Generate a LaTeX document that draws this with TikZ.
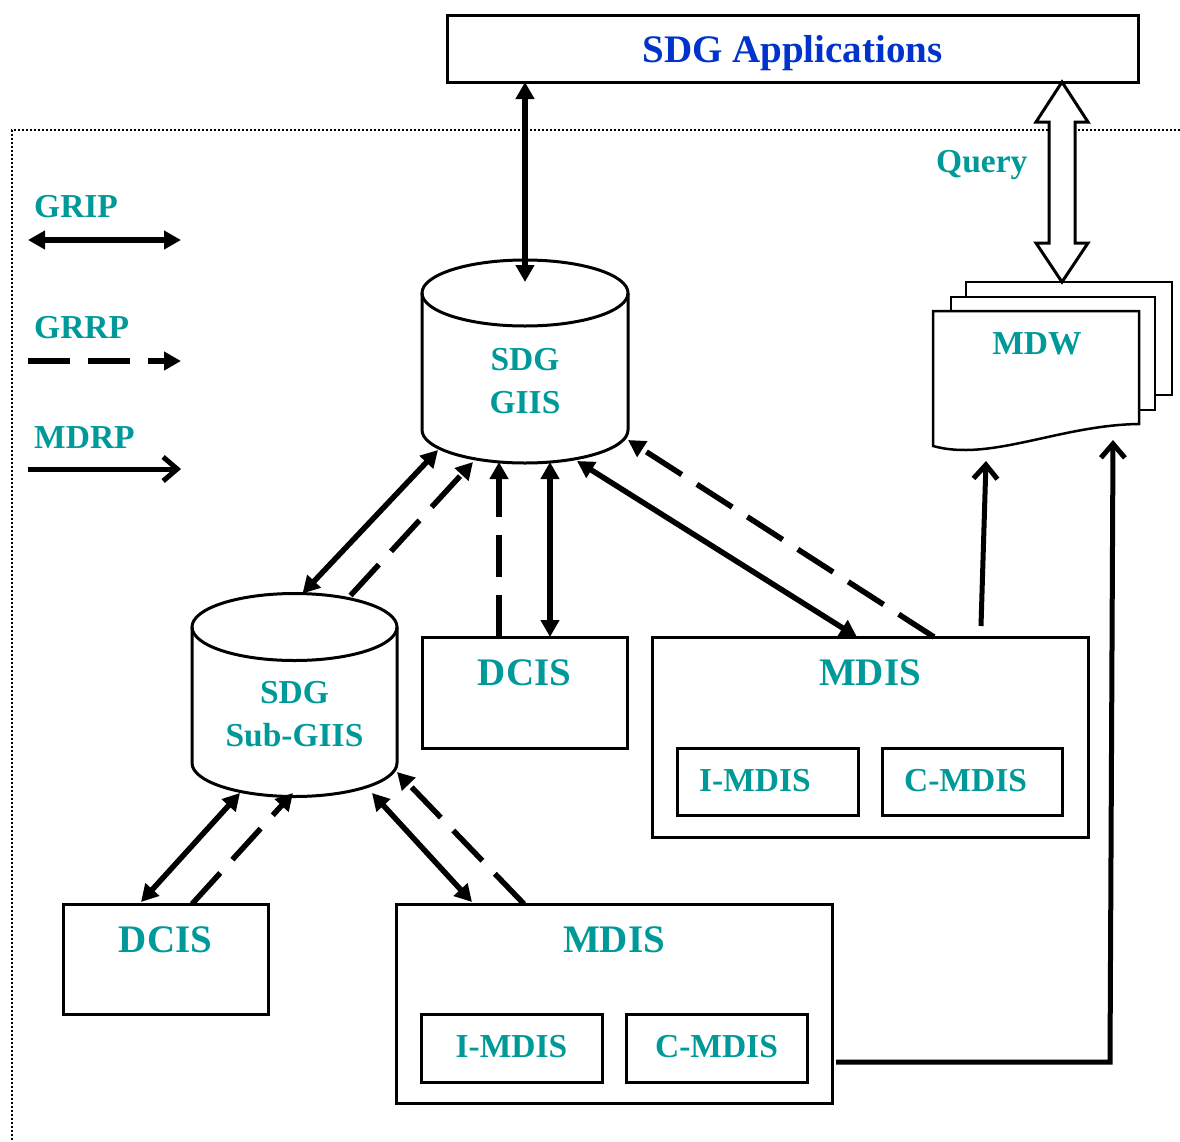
\documentclass[tikz,border=0pt]{standalone}
\usepackage{fontspec}
\setmainfont{Liberation Serif}
\usetikzlibrary{arrows.meta,shapes.geometric,calc}
\definecolor{labelteal}{RGB}{0,153,153}
\definecolor{appblue}{RGB}{0,51,204}
\newcommand{\bigfont}{\fontsize{39}{45}\selectfont\bfseries}
\newcommand{\lblfont}{\fontsize{33.5}{40}\selectfont\bfseries}

\begin{document}
\begin{tikzpicture}[x=1pt,y=-1pt,
  box/.style={draw, line width=3pt, rectangle, inner sep=0pt, outer sep=0pt},
  sheet/.style={draw, line width=2.5pt, fill=white, rectangle, inner sep=0pt, outer sep=0pt},
  cap/.style={ellipse, inner sep=0pt, outer sep=0pt, minimum width=#1},
  cylside/.style={line width=3pt},
  bigtxt/.style={anchor=base, inner sep=0pt, font=\bigfont, text=labelteal},
  lbl/.style={anchor=base, inner sep=0pt, font=\lblfont, text=labelteal},
  legtxt/.style={anchor=base west, inner sep=0pt, font=\lblfont, text=labelteal},
  frame/.style={line width=1.6pt, dash pattern=on 1.6pt off 2.4pt},
  grip/.style={line width=5.5pt, {Triangle[length=17pt,width=18pt]}-{Triangle[length=17pt,width=18pt]}},
  grrp/.style={line width=5.5pt, dash pattern=on 42pt off 18pt, -{Triangle[length=17pt,width=18pt]}},
  mdrp/.style={line width=5pt, -{Straight Barb[length=14pt,width=24pt]}},
  hollow/.style={draw, line width=3pt, fill=white, line join=miter}
]
\useasboundingbox (0,0) rectangle (1180,1141);

% dotted boundary of the SDG domain
\draw[frame] (1180,130) -- (12,130) -- (12,1141);

% application layer
\node[box, minimum width=691pt, minimum height=67pt] (apps) at (792.5,48.5) {};
\node[anchor=base, inner sep=0pt, font=\bigfont, text=appblue] (appstxt) at (792.5,62) {SDG Applications};

% legend
\node[legtxt] (legGrip) at (34,217) {GRIP};
\node[legtxt] (legGrrp) at (34,338) {GRRP};
\node[legtxt] (legMdrp) at (34,448) {MDRP};
\coordinate (gripA) at (28,240);  \coordinate (gripB) at (181,240);
\coordinate (grrpA) at (28,361);  \coordinate (grrpB) at (181,361);
\coordinate (mdrpA) at (28,469);  \coordinate (mdrpB) at (181,469);
\draw[grip] (gripA) -- (gripB);
\draw[grrp] (grrpA) -- (grrpB);
\draw[mdrp] (mdrpA) -- (mdrpB);

% metadata warehouse: stacked pages
\node[sheet, minimum width=206pt, minimum height=113pt] (mdw3) at (1069,338.5) {};
\node[sheet, minimum width=204pt, minimum height=113pt] (mdw2) at (1053,353.5) {};
\node[rectangle, inner sep=0pt, outer sep=0pt, minimum width=206pt, minimum height=141pt] (mdw) at (1036,381.5) {};
\draw[line width=2.5pt, fill=white] (mdw.north west) -- (mdw.north east) -- ($(mdw.north east)+(0,113)$)
  .. controls ($(mdw.north east)+(-79,114)$) and ($(mdw.north west)+(57,151)$) .. ($(mdw.north west)+(0,135)$) -- cycle;
\node[lbl] (mdwtxt) at (1037,354) {MDW};
\node[legtxt] (query) at (936,172) {Query};

% top-level GIIS cylinder
\node[cap=206pt, minimum height=66pt, draw, line width=3pt] (giisTop) at (525,293) {};
\node[cap=206pt, minimum height=66pt] (giisBot) at (525,430) {};
\draw[cylside] (giisTop.west) -- (giisBot.west) arc[start angle=180, end angle=360, x radius=103pt, y radius=33pt] -- (giisTop.east);
\node[lbl] (giisA) at (525,370) {SDG};
\node[lbl] (giisB) at (525,413) {GIIS};

% sub-GIIS cylinder
\node[cap=205pt, minimum height=67pt, draw, line width=3pt] (subTop) at (294.5,627) {};
\node[cap=205pt, minimum height=67pt] (subBot) at (294.5,763) {};
\draw[cylside] (subTop.west) -- (subBot.west) arc[start angle=180, end angle=360, x radius=102.5pt, y radius=33.5pt] -- (subTop.east);
\node[lbl] (subA) at (294.5,703) {SDG};
\node[lbl] (subB) at (294.5,746) {Sub-GIIS};

% information services, upper row
\node[box, minimum width=205pt, minimum height=111pt] (dcis1) at (524.5,692.5) {};
\node[bigtxt] (dcis1txt) at (524.5,685) {DCIS};
\node[box, minimum width=436pt, minimum height=200pt] (mdis1) at (870,737) {};
\node[bigtxt] (mdis1txt) at (870,685) {MDIS};
\node[box, minimum width=181pt, minimum height=67pt] (imdis1) at (767.5,781.5) {};
\node[lbl] (imdis1txt) at (755,791) {I-MDIS};
\node[box, minimum width=180pt, minimum height=67pt] (cmdis1) at (972,781.5) {};
\node[lbl] (cmdis1txt) at (965.5,791) {C-MDIS};

% information services, lower row
\node[box, minimum width=205pt, minimum height=110pt] (dcis2) at (165.5,959) {};
\node[bigtxt] (dcis2txt) at (165.5,952) {DCIS};
\node[box, minimum width=436pt, minimum height=199pt] (mdis2) at (614,1003.5) {};
\node[bigtxt] (mdis2txt) at (614,952) {MDIS};
\node[box, minimum width=181pt, minimum height=68pt] (imdis2) at (511.5,1048) {};
\node[lbl] (imdis2txt) at (511.5,1057) {I-MDIS};
\node[box, minimum width=181pt, minimum height=68pt] (cmdis2) at (716.5,1048) {};
\node[lbl] (cmdis2txt) at (716.5,1057) {C-MDIS};

% connectors around the GIIS
\draw[grip] (apps.south -| giisTop.north) -- ($(giisTop.north)+(0,22)$);
\draw[grip] ($(giisBot.center)+(-87,20)$) -- ($(subTop.north)+(8,0)$);
\draw[grrp] ($(subTop.north)+(56,2)$) -- ($(giisBot.center)+(-52,32)$);
\draw[grrp] ($(dcis1.north west)+(77,0)$) -- ($(giisBot.center)+(-26,32)$);
\draw[grip] ($(giisBot.center)+(25,32)$) -- ($(dcis1.north west)+(128,0)$);
\draw[grip] ($(giisBot.center)+(52,31)$) -- ($(mdis1.north west)+(205,0)$);
\draw[grrp] ($(mdis1.north west)+(282,0)$) -- ($(giisBot.center)+(103,10)$);

% connectors around the sub-GIIS
\draw[grip] ($(subBot.center)+(-54.5,30)$) -- ($(dcis2.north west)+(78,-2)$);
\draw[grrp] ($(dcis2.north west)+(129,0)$) -- ($(subBot.center)+(-1.5,30)$);
\draw[grip] ($(subBot.center)+(77.5,30)$) -- ($(mdis2.north west)+(76,-2)$);
\draw[grrp] ($(mdis2.north west)+(128,0)$) -- ($(subBot.east)+(0,9)$);

% metadata registration into the warehouse
\draw[mdrp] ($(mdis1.north west)+(329,-11)$) -- ($(mdw.south west)+(53,9)$);
\draw[mdrp] ($(mdis2.south east)+(4,-41)$) -- ($(mdis2.south east)+(278,-41)$) -- ($(mdw.south east)+(-26,-12)$);

% query channel between applications and warehouse
\coordinate (qt) at ($(apps.south east)+(-76,0)$);
\coordinate (qb) at (qt |- mdw3.north);
\draw[hollow] (qt) -- ++(26,40) -- ++(-13,0) -- ($(qb)+(13,-39)$) -- ++(13,0) -- (qb)
  -- ++(-26,-39) -- ++(13,0) -- ($(qt)+(-13,40)$) -- ++(-13,0) -- cycle;
\end{tikzpicture}
\end{document}
